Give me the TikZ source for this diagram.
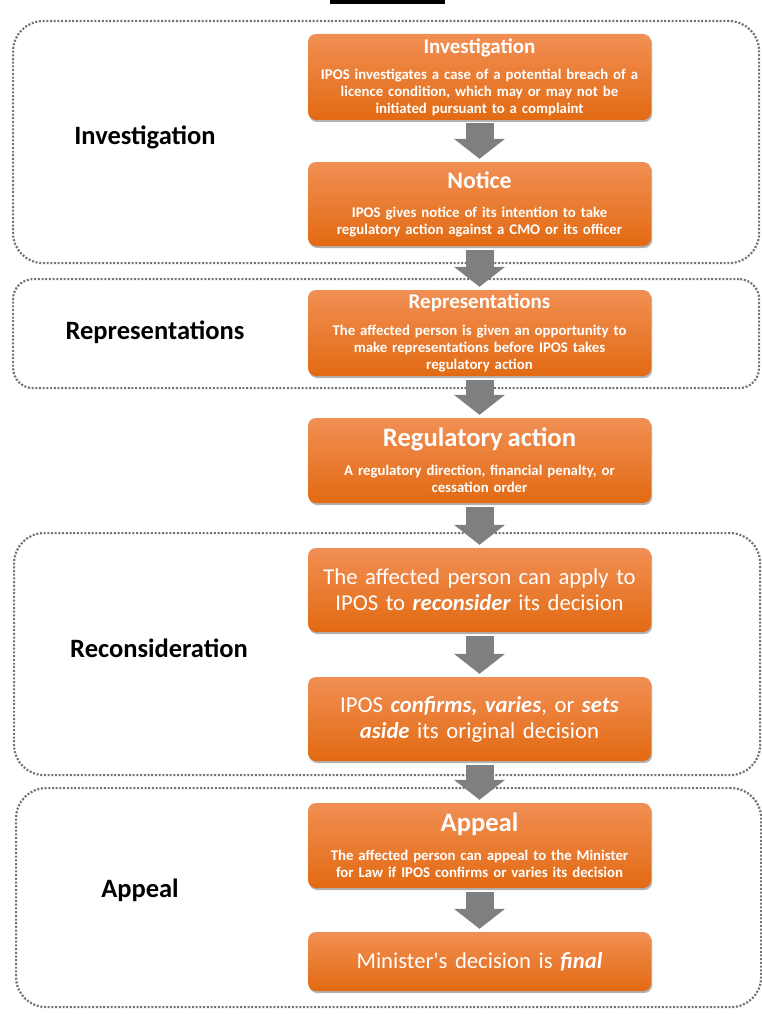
\documentclass[tikz,border=0pt]{standalone}
\usepackage{fontspec}
\setmainfont{Carlito}[Ligatures=TeXOff]
\usetikzlibrary{arrows.meta,shadows,calc}
\definecolor{ortop}{RGB}{241,143,84}
\definecolor{ormid}{RGB}{245,126,46}
\definecolor{orbot}{RGB}{226,106,18}
\definecolor{arrowgray}{RGB}{127,127,127}
\definecolor{dotgray}{RGB}{115,115,115}
\begin{document}
\begin{tikzpicture}[x=1pt,y=-1pt,
  grp/.style={draw=dotgray, line width=2.2pt, dash pattern=on 2pt off 1.7pt,
    anchor=north west, inner sep=0pt},
  obox/.style={rounded corners=8pt, minimum width=343pt, text width=336pt,
    align=center, text=white, inner sep=0pt,
    top color=ortop, middle color=ormid, bottom color=orbot,
    drop shadow={shadow xshift=1.2pt, shadow yshift=-2pt, opacity=0.3, fill=black}},
  lbl/.style={font=\fontsize{26.5}{30}\selectfont\bfseries, text=black, inner sep=0pt},
  bigarrow/.style={draw=arrowgray, line width=28pt, -{Triangle[width=50pt,length=20pt]}},
  body/.style={font=\fontsize{14.8}{17}\selectfont\bfseries},
  big/.style={font=\fontsize{22.7}{26}\selectfont},
]
\useasboundingbox (0,0) rectangle (762,1014);
\fill[black] (330,0) rectangle (445,4);

% groups
\node[grp, rounded corners=30pt, minimum width=746pt, minimum height=242pt] (g1) at (12,20) {};
\node[grp, rounded corners=20pt, minimum width=746pt, minimum height=109pt] (g2) at (12,278) {};
\node[grp, rounded corners=30pt, minimum width=746pt, minimum height=242pt] (g3) at (13,532) {};
\node[grp, rounded corners=30pt, minimum width=745pt, minimum height=219pt] (g4) at (15,787) {};

% group labels
\node[lbl] (l1) at (145,137) {Investigation};
\node[lbl] (l2) at (155,332) {Representations};
\node[lbl] (l3) at (159,648) {Reconsideration};
\node[lbl] (l4) at (140,890) {Appeal};

% boxes
\node[obox, body, minimum height=86pt] (b1) at (479.5,77)
  {{\fontsize{21}{22}\selectfont Investigation}\\[9pt]
   IPOS investigates a case of a potential breach of a\\
   licence condition, which may or may not be\\
   initiated pursuant to a complaint};
\node[obox, body, minimum height=84pt] (b2) at (479.5,204)
  {{\fontsize{23.8}{25}\selectfont Notice}\\[12pt]
   IPOS gives notice of its intention to take\\
   regulatory action against a CMO or its officer};
\node[obox, body, minimum height=86pt] (b3) at (479.5,333)
  {{\fontsize{21}{22}\selectfont Representations}\\[10pt]
   The affected person is given an opportunity to\\
   make representations before IPOS takes\\
   regulatory action};
\node[obox, body, minimum height=85pt] (b4) at (479.5,460.5)
  {{\fontsize{26.6}{28}\selectfont Regulatory action}\\[12pt]
   A regulatory direction, financial penalty, or\\
   cessation order};
\node[obox, big, minimum height=84pt] (b5) at (479.5,590)
  {The affected person can apply to\\
   IPOS to \textbf{\textit{reconsider}} its decision};
\node[obox, big, minimum height=84pt] (b6) at (479.5,719)
  {IPOS \textbf{\textit{confirms, varies}}, or \textbf{\textit{sets}}\\
   \textbf{\textit{aside}} its original decision};
\node[obox, body, minimum height=85pt] (b7) at (479.5,845.5)
  {{\fontsize{26.6}{28}\selectfont Appeal}\\[12pt]
   The affected person can appeal to the Minister\\
   for Law if IPOS confirms or varies its decision};
\node[obox, big, minimum height=59pt] (b8) at (479.5,961.5)
  {Minister's decision is \textbf{\textit{final}}};

% arrows
\draw[bigarrow] ($(b1.south)+(0,3)$) -- ($(b2.north)+(0,-3)$);
\draw[bigarrow] ($(b2.south)+(0,4)$) -- ($(b3.north)+(0,-3)$);
\draw[bigarrow] ($(b3.south)+(0,4)$) -- ($(b4.north)+(0,-3)$);
\draw[bigarrow] ($(b4.south)+(0,4)$) -- ($(b5.north)+(0,-3)$);
\draw[bigarrow] ($(b5.south)+(0,4)$) -- ($(b6.north)+(0,-3)$);
\draw[bigarrow] ($(b6.south)+(0,4)$) -- ($(b7.north)+(0,-3)$);
\draw[bigarrow] ($(b7.south)+(0,4)$) -- ($(b8.north)+(0,-3)$);
\end{tikzpicture}
\end{document}
